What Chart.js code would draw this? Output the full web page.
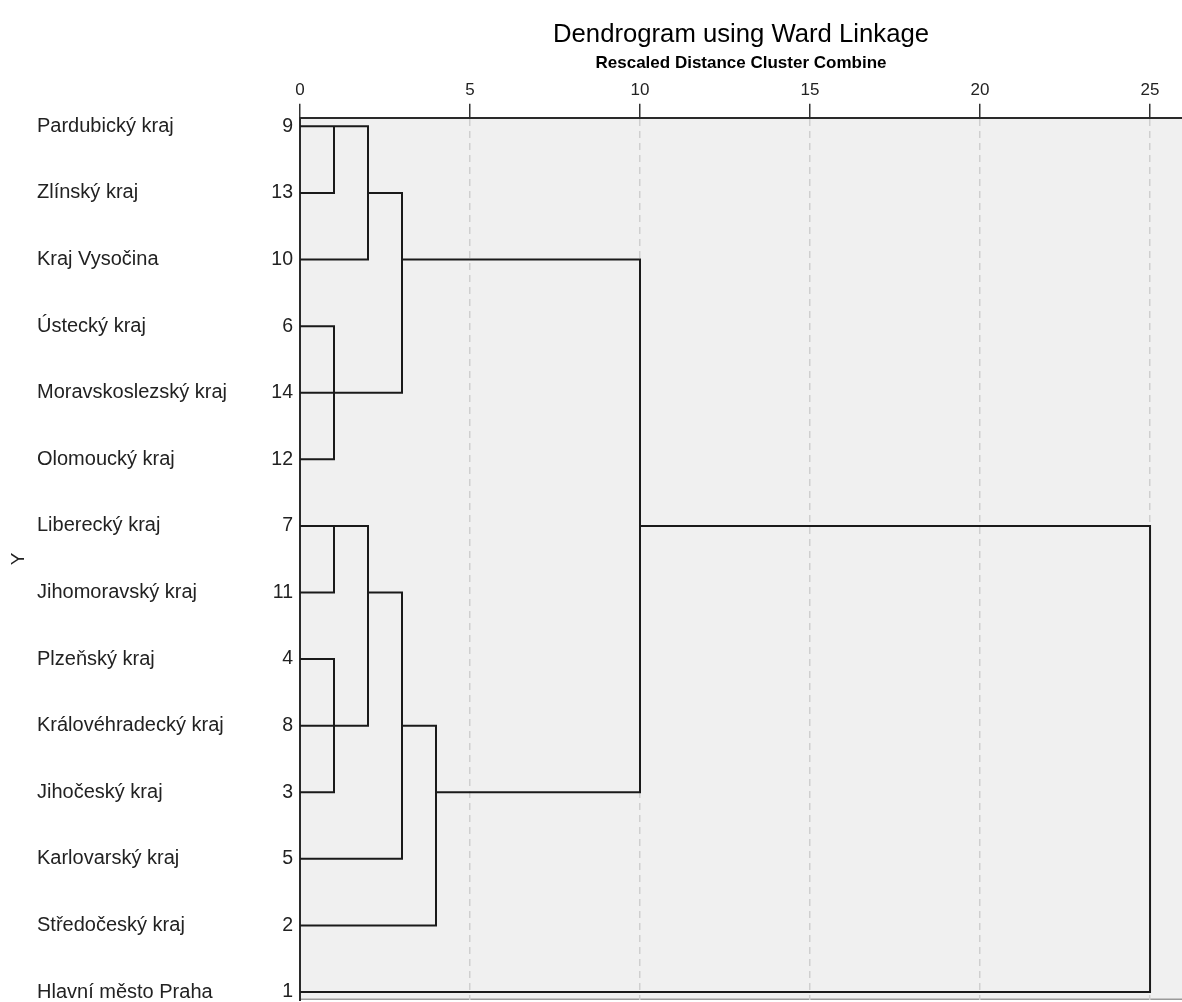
<!DOCTYPE html>
<html>
<head>
<meta charset="utf-8">
<script src="https://cdn.jsdelivr.net/npm/chart.js@4.4.0/dist/chart.umd.min.js"></script>
<style>
  html, body { margin: 0; padding: 0; background: #ffffff; }
  #wrap { width: 1182px; height: 1002px; position: relative; }
</style>
</head>
<body>
<div id="wrap"><canvas id="c"></canvas></div>
<script>
// ---- data ----
const leafIds = [9, 13, 10, 6, 14, 12, 7, 11, 4, 8, 3, 5, 2, 1];
const leafNames = [
  'Pardubický kraj', 'Zlínský kraj', 'Kraj Vysočina', 'Ústecký kraj',
  'Moravskoslezský kraj', 'Olomoucký kraj', 'Liberecký kraj', 'Jihomoravský kraj',
  'Plzeňský kraj', 'Královéhradecký kraj', 'Jihočeský kraj', 'Karlovarský kraj',
  'Středočeský kraj', 'Hlavní město Praha'
];
const mergeFirst    = [9, 6, 6, 9, 7, 4, 4, 9, 7, 7, 7, 9, 9];
const mergeSecond   = [13, 14, 12, 10, 11, 8, 3, 6, 4, 5, 2, 7, 1];
const mergeDistance = [1, 1, 1, 2, 1, 1, 1, 3, 2, 3, 4, 10, 25];
const xTicks = [0, 5, 10, 15, 20, 25];
const chartTitle = 'Dendrogram using Ward Linkage';
const axisTitle = 'Rescaled Distance Cluster Combine';
const yTitle = 'Y';

// ---- build dendrogram polylines (SPSS layout) ----
const rows = leafIds.map((_, i) => i);
const node = {};
leafIds.forEach((id, r) => { node[id] = { row: r, x: 0, members: [id] }; });
const pts = [];
mergeFirst.forEach((f, k) => {
  const a = node[f], b = node[mergeSecond[k]], d = mergeDistance[k];
  pts.push({ x: a.x, y: a.row }, { x: d, y: a.row }, { x: d, y: b.row }, { x: b.x, y: b.row }, { x: null, y: null });
  const c = { row: Math.floor((a.row + b.row) / 2), x: d, members: a.members.concat(b.members) };
  c.members.forEach(m => { node[m] = c; });
});

const FONT = "'Liberation Sans', Arial, sans-serif";
const Y_MIN = -0.128, Y_MAX = 13.12;
const setRowTicks = axis => { axis.ticks = rows.map(v => ({ value: v })); };
const fitY = w => s => { s.width = w; s.paddingTop = 0; s.paddingBottom = 0; };

const bgPlugin = {
  id: 'bg',
  beforeDraw(chart) {
    const { ctx, chartArea: a } = chart;
    ctx.save();
    ctx.fillStyle = '#f0f0f0';
    ctx.fillRect(a.left, a.top, a.right - a.left, a.bottom - a.top);
    ctx.strokeStyle = '#9a9a9a';
    ctx.lineWidth = 1.5;
    ctx.beginPath();
    ctx.moveTo(a.left, a.bottom - 0.75);
    ctx.lineTo(a.right, a.bottom - 0.75);
    ctx.stroke();
    ctx.restore();
  }
};

new Chart(document.getElementById('c'), {
  type: 'scatter',
  data: {
    datasets: [{
      data: pts,
      showLine: true,
      spanGaps: false,
      borderColor: '#1a1a1a',
      borderWidth: 2,
      borderJoinStyle: 'miter',
      pointRadius: 0,
      pointHoverRadius: 0,
      xAxisID: 'x',
      yAxisID: 'y'
    }]
  },
  options: {
    responsive: true,
    maintainAspectRatio: false,
    animation: false,
    layout: { padding: { top: 4, right: 0, bottom: 2, left: 0 } },
    plugins: {
      legend: { display: false },
      tooltip: { enabled: false },
      title: {
        display: true,
        text: chartTitle,
        fullSize: false,
        color: '#000',
        font: { family: FONT, size: 25.7, weight: 'normal' },
        padding: { top: 15, bottom: 0 }
      }
    },
    scales: {
      x: {
        type: 'linear',
        position: 'top',
        min: 0,
        max: 25.94,
        afterBuildTicks: axis => { axis.ticks = xTicks.map(v => ({ value: v })); },
        afterFit: s => { s.height = 68; s.paddingLeft = 0; s.paddingRight = 0; },
        ticks: { color: '#222', padding: 3, font: { family: FONT, size: 17 } },
        grid: {
          color: '#cfcfcf', lineWidth: 1.5,
          tickColor: '#333', tickLength: 14, tickWidth: 1.5
        },
        border: { display: true, color: '#2a2a2a', width: 2, dash: [7, 5] },
        title: {
          display: true, text: axisTitle, color: '#000',
          font: { family: FONT, size: 17, weight: 'bold' },
          padding: { top: 3, bottom: 0 }
        }
      },
      y: {
        type: 'linear',
        position: 'left',
        weight: 0,
        reverse: true,
        min: Y_MIN, max: Y_MAX,
        afterBuildTicks: setRowTicks,
        afterFit: fitY(40),
        ticks: { color: '#222', padding: 7, font: { family: FONT, size: 19.5 },
                 callback: v => leafIds[v] },
        grid: { display: false, drawTicks: false },
        border: { display: true, color: '#2a2a2a', width: 2 }
      },
      yNames: {
        type: 'linear',
        position: 'left',
        weight: 1,
        reverse: true,
        min: Y_MIN, max: Y_MAX,
        afterBuildTicks: setRowTicks,
        afterFit: fitY(223),
        ticks: { color: '#222', crossAlign: 'far', font: { family: FONT, size: 20 },
                 callback: v => leafNames[v] },
        grid: { display: false, drawTicks: false },
        border: { display: false }
      },
      yTitle: {
        type: 'linear',
        position: 'left',
        weight: 2,
        min: Y_MIN, max: Y_MAX,
        afterFit: fitY(37),
        ticks: { display: false },
        grid: { display: false, drawTicks: false },
        border: { display: false },
        title: {
          display: true, text: yTitle, color: '#222',
          font: { family: FONT, size: 19 },
          padding: { top: 7, bottom: 0 }
        }
      }
    }
  },
  plugins: [bgPlugin]
});
</script>
</body>
</html>
